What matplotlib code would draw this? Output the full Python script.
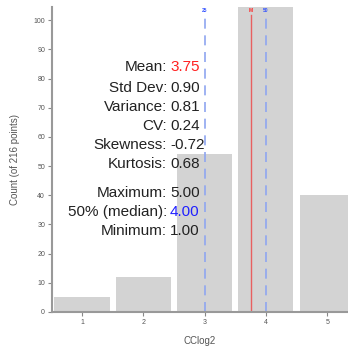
import numpy as np
import matplotlib.pyplot as plt

plt.rcParams['font.family'] = ['Liberation Sans', 'DejaVu Sans']

levels = [1, 2, 3, 4, 5]
counts = [5, 12, 54, 105, 40]
n_points = 216

q25 = 3.0
mean = 3.75
median = 4.0

stat_names = ['Mean:', 'Std Dev:', 'Variance:', 'CV:', 'Skewness:', 'Kurtosis:',
              'Maximum:', '50% (median):', 'Minimum:']
stat_values = ['3.75', '0.90', '0.81', '0.24', '-0.72', '0.68', '5.00', '4.00', '1.00']
stat_colors = ['#ff2020', '#222222', '#222222', '#222222', '#222222', '#222222',
               '#222222', '#2020ff', '#222222']

W, H = 348, 347
fig = plt.figure(figsize=(W / 100, H / 100), dpi=100)
ax = fig.add_axes([52 / W, 35 / H, 296 / W, 305 / H])

ax.bar(levels, counts, width=0.9, color='#d3d3d3', zorder=1)

ax.axvline(q25, ymax=0.974, color='#8fa6f0', lw=1.2, ls=(0, (6, 4)), zorder=2)
ax.axvline(median, ymax=0.974, color='#8fa6f0', lw=1.2, ls=(0, (6, 4)), zorder=2)
ax.axvline(mean, ymax=0.974, color='#e86060', lw=1.0, zorder=2)
for xv, lab, c in [(q25, '25', '#3050ff'), (mean, 'M', '#ff2020'), (median, '50', '#3050ff')]:
    ax.text(xv, 0.99, lab, transform=ax.get_xaxis_transform(), ha='center', va='center',
            fontsize=3.5, color=c, fontweight='bold')

ax.set_xlim(0.51, 5.34)
ax.set_ylim(0, 104.5)
ax.set_xticks(levels)
ax.set_yticks(np.arange(0, 101, 10))

for s in ['top', 'right']:
    ax.spines[s].set_visible(False)
for s in ['left', 'bottom']:
    ax.spines[s].set_color('#999999')
    ax.spines[s].set_linewidth(1.5)
ax.tick_params(length=3, width=0.8, color='#888888', labelsize=5, labelcolor='#555555', pad=2)

ax.set_xlabel('CClog2', fontsize=7, color='#555555', labelpad=7)
ax.set_ylabel('Count (of %d points)' % n_points, fontsize=7, color='#555555', labelpad=10)

ys = [67, 88, 107, 126, 145, 164, 193, 212, 231]
for name, val, col, y in zip(stat_names, stat_values, stat_colors, ys):
    fig.text(167 / W, 1 - y / H, name, ha='right', va='center', fontsize=11, color='#222222')
    fig.text(170 / W, 1 - y / H, val, ha='left', va='center', fontsize=11, color=col)

fig.savefig('out.png', dpi=100)
